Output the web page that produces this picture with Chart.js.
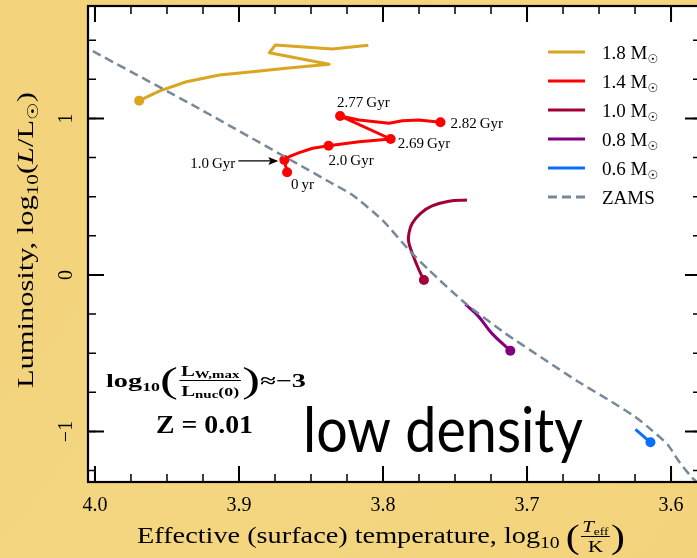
<!DOCTYPE html>
<html lang="en">
<head>
<meta charset="UTF-8">
<title>HR diagram - low density</title>
<script src="https://cdn.jsdelivr.net/npm/chart.js"></script>
<style>
  html, body { margin: 0; padding: 0; overflow: hidden; background: #f3d47d; }
  .wrap { position: relative; width: 706px; height: 558px; }
</style>
</head>
<body>
<div class="wrap"><canvas id="hr" width="706" height="558"></canvas></div>
<script>
// --- data: log10(Teff/K) and log10(L/Lsun) ---
const seriesNames = ['1.8 M', '1.4 M', '1.0 M', '0.8 M', '0.6 M', 'ZAMS'];

const m18X = [3.9693, 3.9550, 3.9365, 3.9135, 3.8907, 3.8673, 3.8374, 3.8789, 3.8747, 3.8351, 3.8102];
const m18Y = [1.114, 1.176, 1.235, 1.278, 1.299, 1.321, 1.346, 1.420, 1.470, 1.444, 1.468];

const m14X = [3.8666, 3.8685, 3.8651, 3.8581, 3.8489, 3.8378, 3.8166, 3.7947, 3.8298, 3.8166, 3.7958, 3.7866, 3.7751, 3.7601];
const m14Y = [0.656, 0.735, 0.756, 0.7815, 0.810, 0.826, 0.852, 0.869, 1.016, 0.990, 0.969, 0.986, 0.990, 0.976];
const ageIdx = [0, 1, 5, 7, 8, 13];
const ageLabels = ['0\u2009yr', '1.0\u2009Gyr', '2.0\u2009Gyr', '2.69\u2009Gyr', '2.77\u2009Gyr', '2.82\u2009Gyr'];

const m10X = [3.7716, 3.7750, 3.7797, 3.7822, 3.7820, 3.7797, 3.7739, 3.7659, 3.7543, 3.7417];
const m10Y = [-0.032, 0.032, 0.139, 0.213, 0.266, 0.330, 0.394, 0.441, 0.471, 0.479];

const m08X = [3.7116, 3.7244, 3.7336, 3.7428];
const m08Y = [-0.484, -0.373, -0.266, -0.187];

const m06X = [3.6143, 3.6247];
const m06Y = [-1.069, -0.986];

const zamsX = [4.010, 4.0048, 3.9273, 3.8374, 3.8212, 3.8005, 3.7820, 3.7682, 3.7428, 3.7151, 3.6874, 3.6644, 3.6413, 3.6251, 3.6136, 3.6021, 3.5952, 3.5860, 3.5790];
const zamsY = [1.473, 1.447, 1.061, 0.596, 0.511, 0.351, 0.160, 0.032, -0.181, -0.373, -0.543, -0.682, -0.810, -0.905, -0.990, -1.086, -1.182, -1.289, -1.350];

const xTicks = [4.0, 3.9, 3.8, 3.7, 3.6];
const xTickLabels = ['4.0', '3.9', '3.8', '3.7', '3.6'];
const yTicks = [1, 0, -1];
const yTickLabels = ['1', '0', '\u22121'];

// --- styles ---
const colors = ['#daa520', '#ff0000', '#a1003a', '#800080', '#0a6eff', '#778899'];
const SERIF = "'Liberation Serif', 'DejaVu Serif', serif";
const fnt = (size, style) => (style || '') + ' ' + size + 'px ' + SERIF;

function pts(xs, ys) { return xs.map((x, i) => ({ x: x, y: ys[i] })); }

function track(i, xs, ys, dots, tension) {
  return {
    label: seriesNames[i],
    data: pts(xs, ys),
    showLine: true,
    borderColor: colors[i],
    backgroundColor: colors[i],
    borderWidth: 3,
    borderJoinStyle: 'round',
    tension: tension,
    pointRadius: ctx => dots.includes(ctx.dataIndex) ? 5 : 0,
    pointBorderWidth: 0,
    order: 1
  };
}

const datasets = [
  {
    label: seriesNames[5],
    data: pts(zamsX, zamsY),
    showLine: true,
    borderColor: colors[5],
    borderWidth: 2.5,
    borderDash: [9, 5],
    pointRadius: 0,
    tension: 0.2,
    order: 0
  },
  track(0, m18X, m18Y, [0], 0),
  track(1, m14X, m14Y, ageIdx, 0),
  track(2, m10X, m10Y, [0], 0.4),
  track(3, m08X, m08Y, [0], 0.4),
  track(4, m06X, m06Y, [0], 0)
];

// --- rich text helpers ---
function measureRuns(ctx, runs) {
  let w = 0;
  for (const r of runs) {
    if (r.frac) r._w = Math.max(measureRuns(ctx, r.num), measureRuns(ctx, r.den)) + 4;
    else { ctx.font = r.f; r._w = ctx.measureText(r.t).width; }
    w += r._w + (r.gap || 0);
  }
  return w;
}

function drawRuns(ctx, runs, x, y, align, fitW) {
  const w = measureRuns(ctx, runs);
  const sx = fitW ? fitW / w : 1;
  const tw = w * sx;
  const x0 = align === 'center' ? x - tw / 2 : align === 'right' ? x - tw : x;
  ctx.save();
  ctx.translate(x0, y);
  ctx.scale(sx, 1);
  ctx.textAlign = 'left';
  ctx.textBaseline = 'alphabetic';
  let cx = 0;
  for (const r of runs) {
    if (r.frac) {
      const nw = measureRuns(ctx, r.num), dw = measureRuns(ctx, r.den);
      drawRuns(ctx, r.num, cx + (r._w - nw) / 2, r.numDy, 'left');
      drawRuns(ctx, r.den, cx + (r._w - dw) / 2, r.denDy, 'left');
      ctx.fillRect(cx + 1, r.barDy, r._w - 2, r.barH || 1);
    } else {
      ctx.font = r.f;
      ctx.fillText(r.t, cx, r.dy || 0);
    }
    cx += r._w + (r.gap || 0);
  }
  ctx.restore();
  measureRuns(ctx, runs);
}

const background = {
  id: 'background',
  beforeDraw(chart) {
    const { ctx, chartArea: a } = chart;
    ctx.save();
    const g = ctx.createLinearGradient(0, 0, chart.width, chart.height);
    g.addColorStop(0, '#f2d27a');
    g.addColorStop(0.5, '#f4d681');
    g.addColorStop(1, '#f3d47c');
    ctx.fillStyle = g;
    ctx.fillRect(0, 0, chart.width, chart.height);
    ctx.fillStyle = '#ffffff';
    ctx.fillRect(a.left, a.top, a.right - a.left, a.bottom - a.top);
    ctx.restore();
  }
};

const frame = {
  id: 'frame',
  afterDatasetsDraw(chart) {
    const { ctx, chartArea: a, scales: { x, y } } = chart;
    ctx.save();
    ctx.fillStyle = '#000';
    ctx.strokeStyle = '#000';

    // inward ticks on all four sides
    const tick = (px, len, vertical) => {
      ctx.beginPath();
      if (vertical) {
        ctx.moveTo(px, a.bottom); ctx.lineTo(px, a.bottom - len);
        ctx.moveTo(px, a.top); ctx.lineTo(px, a.top + len);
      } else {
        ctx.moveTo(a.left, px); ctx.lineTo(a.left + len, px);
        ctx.moveTo(a.right, px); ctx.lineTo(a.right - len, px);
      }
      ctx.stroke();
    };
    ctx.lineWidth = 1.5;
    for (let v = 4.0; v > x.min; v -= 0.025) tick(x.getPixelForValue(v), 8, true);
    for (let v = -1.25; v < y.max; v += 0.25) tick(y.getPixelForValue(v), 8, false);
    ctx.lineWidth = 2;
    xTicks.forEach(v => tick(x.getPixelForValue(v), 16, true));
    yTicks.forEach(v => tick(y.getPixelForValue(v), 16, false));
    ctx.lineWidth = 2.2;
    ctx.strokeRect(a.left, a.top, a.right - a.left, a.bottom - a.top);

    // tick labels
    ctx.textAlign = 'center';
    ctx.textBaseline = 'alphabetic';
    ctx.font = fnt(20);
    xTicks.forEach((v, i) => ctx.fillText(xTickLabels[i], x.getPixelForValue(v), 511));
    yTicks.forEach((v, i) => {
      ctx.save();
      ctx.translate(72, y.getPixelForValue(v));
      ctx.rotate(-Math.PI / 2);
      ctx.fillText(yTickLabels[i], 0, 0);
      ctx.restore();
    });

    // axis titles
    drawRuns(ctx, [
      { t: 'Effective (surface) temperature, log', f: fnt(23) },
      { t: '10', f: fnt(16), dy: 5, gap: 5 },
      { t: '(', f: fnt(34), dy: 5 },
      { frac: true, num: [{ t: 'T', f: fnt(17, 'italic') }, { t: 'eff', f: fnt(11), dy: 3 }],
        den: [{ t: 'K', f: fnt(17) }], numDy: -11, denDy: 9, barDy: -7 },
      { t: ')', f: fnt(34), dy: 5 }
    ], 137, 543, 'left', 488);

    ctx.save();
    ctx.translate(33, 240);
    ctx.rotate(-Math.PI / 2);
    drawRuns(ctx, [
      { t: 'Luminosity, log', f: fnt(23) },
      { t: '10', f: fnt(16), dy: 5 },
      { t: '(', f: fnt(23) },
      { t: 'L', f: fnt(23, 'italic') },
      { t: '/L', f: fnt(23) },
      { t: '\u2609', f: '15px DejaVu Sans', dy: 5 },
      { t: ')', f: fnt(23) }
    ], 0, 0, 'center', 296);
    ctx.restore();

    // ages on the 1.4 Msun track
    const red = chart.getDatasetMeta(2).data;
    const ageOff = [[4, 17, 'left'], [-49, 8, 'right'], [0, 19, 'left'], [7, 9, 'left'], [-3, -9, 'left'], [10, 6, 'left']];
    ctx.font = fnt(15);
    ageIdx.forEach((k, i) => {
      const p = red[k];
      ctx.textAlign = ageOff[i][2];
      ctx.fillText(ageLabels[i], p.x + ageOff[i][0], p.y + ageOff[i][1]);
    });
    const p1 = red[ageIdx[1]];
    ctx.lineWidth = 1.3;
    ctx.beginPath();
    ctx.moveTo(p1.x - 46, p1.y + 1);
    ctx.lineTo(p1.x - 14, p1.y + 1);
    ctx.stroke();
    ctx.beginPath();
    ctx.moveTo(p1.x - 6, p1.y + 1);
    ctx.lineTo(p1.x - 16, p1.y - 3);
    ctx.lineTo(p1.x - 14, p1.y + 1);
    ctx.lineTo(p1.x - 16, p1.y + 5);
    ctx.closePath();
    ctx.fill();

    // legend
    const lx = 548, ly = 52, step = 29;
    chart.data.datasets.slice(1).concat(chart.data.datasets[0]).forEach((ds, i) => {
      const yy = ly + i * step;
      ctx.save();
      ctx.strokeStyle = ds.borderColor;
      ctx.lineWidth = 3;
      ctx.setLineDash(ds.borderDash || []);
      ctx.beginPath();
      ctx.moveTo(lx, yy);
      ctx.lineTo(lx + 37, yy);
      ctx.stroke();
      ctx.restore();
      const runs = ds.label === 'ZAMS'
        ? [{ t: 'ZAMS', f: fnt(19) }]
        : [{ t: ds.label, f: fnt(19) }, { t: '\u2609', f: '12px DejaVu Sans', dy: 4 }];
      drawRuns(ctx, runs, 602, yy + 7, 'left');
    });

    // annotations
    drawRuns(ctx, [
      { t: 'log', f: fnt(19, 'bold') },
      { t: '10', f: fnt(12, 'bold'), dy: 4 },
      { t: '(', f: fnt(36), dy: 5 },
      { frac: true,
        num: [{ t: 'L', f: fnt(14, 'bold') }, { t: 'W,max', f: fnt(10, 'bold'), dy: 2 }],
        den: [{ t: 'L', f: fnt(14, 'bold') }, { t: 'nuc', f: fnt(10, 'bold'), dy: 2 }, { t: '(0)', f: fnt(12, 'bold') }],
        numDy: -11, denDy: 9, barDy: -7 },
      { t: ')', f: fnt(36), dy: 5 },
      { t: '\u2248\u22123', f: fnt(19, 'bold') }
    ], 106, 387, 'left', 200);
    drawRuns(ctx, [{ t: 'Z = 0.01', f: fnt(25, 'bold') }], 156, 433, 'left', 97);
    drawRuns(ctx, [{ t: 'low density', f: "62px Lato, 'Open Sans', sans-serif" }], 303, 452, 'left', 280);

    ctx.restore();
  }
};

new Chart(document.getElementById('hr'), {
  type: 'scatter',
  data: { datasets: datasets },
  options: {
    responsive: false,
    animation: false,
    layout: { padding: { left: 88, top: 6, right: 3, bottom: 76 } },
    scales: {
      x: { type: 'linear', reverse: true, min: 3.5792, max: 4.00484, display: false },
      y: { type: 'linear', min: -1.3227, max: 1.7188, display: false }
    },
    plugins: { legend: { display: false }, tooltip: { enabled: false } }
  },
  plugins: [background, frame]
});
</script>
</body>
</html>
